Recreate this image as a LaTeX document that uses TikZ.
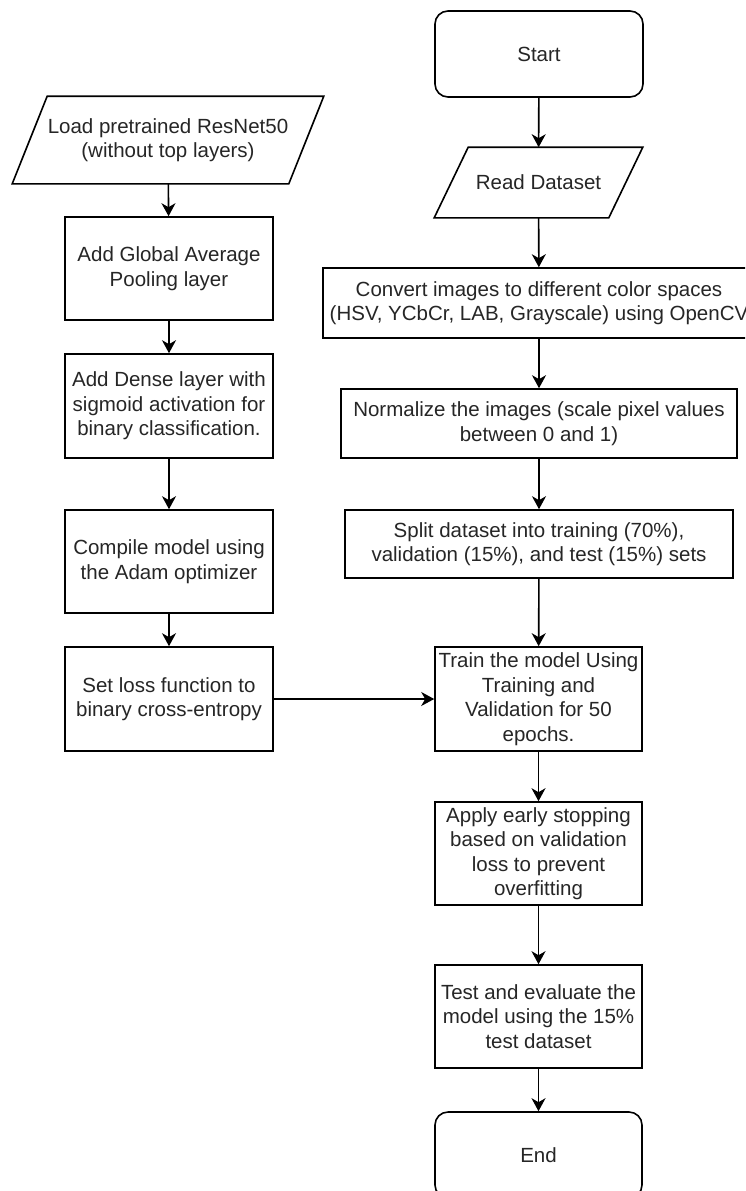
\documentclass[tikz,border=0pt]{standalone}
\usepackage{fontspec}
\setmainfont{Liberation Sans}
\usetikzlibrary{arrows.meta,calc}
\begin{document}
\begin{tikzpicture}[x=1pt,y=-1pt,
  base/.style={line width=1.6pt, align=center, inner sep=0pt, text=black!85,
    font=\fontsize{20.5}{24.5}\selectfont},
  box/.style={base, draw},
  term/.style={base, draw, rounded corners=13pt},
  para/.style={base},
  arr/.style={line width=1.6pt, -{Stealth[length=13pt,width=14pt,inset=4pt]}}]
\useasboundingbox (0,0) rectangle (745,1191);
\clip (0,0) rectangle (745,1191);
\fill[white] (0,0) rectangle (745,1191);

% left column
\node[para, minimum width=310pt, minimum height=86pt] (load) at (168,140) {Load pretrained ResNet50\\(without top layers)};
\draw[line width=1.6pt] ($(load.north west)+(35,0)$) -- (load.north east) -- ($(load.south east)+(-35,0)$) -- (load.south west) -- cycle;
\node[box, minimum width=208pt, minimum height=103pt] (global) at (169,268.5) {Add Global Average\\Pooling layer};
\node[box, minimum width=208pt, minimum height=104pt] (dense) at (169,406) {Add Dense layer with\\sigmoid activation for\\binary classification.};
\node[box, minimum width=208pt, minimum height=103pt] (compile) at (169,561.5) {Compile model using\\the Adam optimizer};
\node[box, minimum width=208pt, minimum height=104pt] (setloss) at (169,699) {Set loss function to\\binary cross-entropy};

% right column
\node[term, minimum width=208pt, minimum height=86pt] (start) at (539,54) {Start};
\node[para, minimum width=207pt, minimum height=69pt] (read) at (538.5,182.5) {Read Dataset};
\draw[line width=1.6pt] ($(read.north west)+(34,0)$) -- (read.north east) -- ($(read.south east)+(-34,0)$) -- (read.south west) -- cycle;
\node[box, minimum width=432pt, minimum height=70pt] (convert) at (539,303) {Convert images to different color spaces\\(HSV, YCbCr, LAB, Grayscale) using OpenCV};
\node[box, minimum width=396pt, minimum height=69pt] (norm) at (539,423.5) {Normalize the images (scale pixel values\\between 0 and 1)};
\node[box, minimum width=388pt, minimum height=68pt] (split) at (539,544) {Split dataset into training (70\%),\\validation (15\%), and test (15\%) sets};
\node[box, minimum width=207pt, minimum height=104pt] (train) at (538.5,699) {Train the model Using\\Training and\\Validation for 50\\epochs.};
\node[box, minimum width=207pt, minimum height=103pt] (apply) at (538.5,853.5) {Apply early stopping\\based on validation\\loss to prevent\\overfitting};
\node[box, minimum width=207pt, minimum height=103pt] (test) at (538.5,1016.5) {Test and evaluate the\\model using the 15\%\\test dataset};
\node[term, minimum width=207pt, minimum height=86pt] (end) at (538.5,1155) {End};

% connectors
\draw[arr] (load) -- (global);
\draw[arr] (global) -- (dense);
\draw[arr] (dense) -- (compile);
\draw[arr] (compile) -- (setloss);
\draw[arr] (setloss) -- (train);
\draw[arr] (start) -- (read);
\draw[arr] (read) -- (convert);
\draw[arr] (convert) -- (norm);
\draw[arr] (norm) -- (split);
\draw[arr] (split) -- (train);
\draw[arr] (train) -- (apply);
\draw[arr] (apply) -- (test);
\draw[arr] (test) -- (end);
\end{tikzpicture}
\end{document}
